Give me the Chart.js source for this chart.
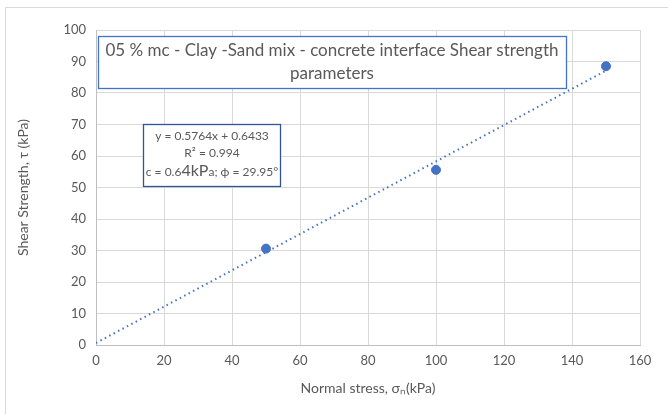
<!DOCTYPE html>
<html>
<head>
<meta charset="utf-8">
<script src="https://cdn.jsdelivr.net/npm/chart.js@4.4.0/dist/chart.umd.min.js"></script>
<style>
  html, body { margin: 0; padding: 0; background: #fff; }
  #wrap { width: 668px; height: 414px; position: relative; }
</style>
</head>
<body>
<div id="wrap"><canvas id="shear" width="668" height="414"></canvas></div>
<script>
// measured points
const normalStress = [50, 100, 150];
const shearStrength = [30.6, 55.6, 88.5];

// linear trendline from the chart label
const slope = 0.5764;
const intercept = 0.6433;
const trendX = [0, 150];

const xTicks = [0, 20, 40, 60, 80, 100, 120, 140, 160];
const yTicks = [0, 10, 20, 30, 40, 50, 60, 70, 80, 90, 100];

const titleLines = ["05 % mc - Clay -Sand mix - concrete interface Shear strength", "parameters"];

const gray = "#595959";
const blue = "#4472c4";

// text boxes + outer frame drawn on top of the chart
const boxes = {
  id: "boxes",
  beforeDraw(chart) {
    const c = chart.ctx;
    c.save();
    c.fillStyle = "#fff";
    c.fillRect(0, 0, chart.width, chart.height);
    c.strokeStyle = "#d9d9d9";
    c.lineWidth = 1;
    c.beginPath();
    c.moveTo(5.5, 414);
    c.lineTo(5.5, 7.5);
    c.lineTo(668, 7.5);
    c.stroke();
    c.restore();
  },
  afterDraw(chart) {
    const c = chart.ctx;
    c.save();
    // title box
    c.fillStyle = "#fff";
    c.fillRect(98, 36, 468, 52);
    c.strokeStyle = blue;
    c.lineWidth = 1.3;
    c.strokeRect(98.5, 36.5, 468, 52);
    c.fillStyle = gray;
    c.font = "17px Lato, 'Open Sans', sans-serif";
    c.textAlign = "center";
    c.textBaseline = "middle";
    c.fillText(titleLines[0], 332, 51);
    c.fillText(titleLines[1], 332, 74);

    // equation box
    c.fillStyle = "#fff";
    c.fillRect(143, 124, 137, 62);
    c.strokeStyle = "#2f5597";
    c.lineWidth = 1.3;
    c.strokeRect(143.5, 124.5, 137, 62);
    c.fillStyle = gray;
    c.font = "12px Lato, 'Open Sans', sans-serif";
    c.fillText("y = " + slope.toFixed(4) + "x + " + intercept.toFixed(4), 212, 136);
    c.fillText("R² = 0.994", 212, 153);
    // mixed-size last line
    const parts = [
      ["c = 0.6", 12], ["4kP", 16], ["a; ϕ = 29.95°", 12]
    ];
    let w = 0;
    parts.forEach(p => { c.font = p[1] + "px Lato, 'Open Sans', sans-serif"; w += c.measureText(p[0]).width; });
    let x = 212 - w / 2;
    c.textAlign = "left";
    c.textBaseline = "alphabetic";
    parts.forEach(p => {
      c.font = p[1] + "px Lato, 'Open Sans', sans-serif";
      c.fillText(p[0], x, 176);
      x += c.measureText(p[0]).width;
    });
    c.restore();
  }
};

const ctx = document.getElementById("shear");
new Chart(ctx, {
  type: "scatter",
  data: {
    datasets: [
      {
        label: "Trend",
        type: "line",
        data: trendX.map(x => ({ x: x, y: slope * x + intercept })),
        borderColor: blue,
        borderWidth: 2,
        borderDash: [1.5, 3.5],
        pointRadius: 0,
        fill: false
      },
      {
        label: "Shear strength",
        data: normalStress.map((x, i) => ({ x: x, y: shearStrength[i] })),
        backgroundColor: blue,
        borderColor: blue,
        pointRadius: 4.5
      }
    ]
  },
  plugins: [boxes],
  options: {
    responsive: false,
    animation: false,
    layout: { padding: { left: 0, top: 30, right: 28, bottom: 0 } },
    plugins: { legend: { display: false }, tooltip: { enabled: false } },
    scales: {
      x: {
        type: "linear",
        min: 0,
        max: 160,
        afterBuildTicks: s => { s.ticks = xTicks.map(v => ({ value: v })); },
        afterFit: s => { s.height = 69; },
        grid: { color: "#d9d9d9", drawTicks: false },
        border: { color: "#bfbfbf" },
        ticks: { color: gray, font: { size: 13, family: "Lato" }, padding: 8 },
        title: {
          display: true,
          text: "Normal stress, σₙ(kPa)",
          color: gray,
          font: { size: 14, family: "Lato" },
          padding: { top: 9, bottom: 17 }
        }
      },
      y: {
        min: 0,
        max: 100,
        afterBuildTicks: s => { s.ticks = yTicks.map(v => ({ value: v })); },
        afterFit: s => { s.width = 96; },
        grid: { color: "#d9d9d9", drawTicks: false },
        border: { color: "#bfbfbf" },
        ticks: { color: gray, font: { size: 13, family: "Lato" }, padding: 10 },
        title: {
          display: true,
          text: "Shear Strength, τ (kPa)",
          color: gray,
          font: { size: 14, family: "Lato" },
          padding: { bottom: 0, top: 15 }
        }
      }
    }
  }
});
</script>
</body>
</html>
